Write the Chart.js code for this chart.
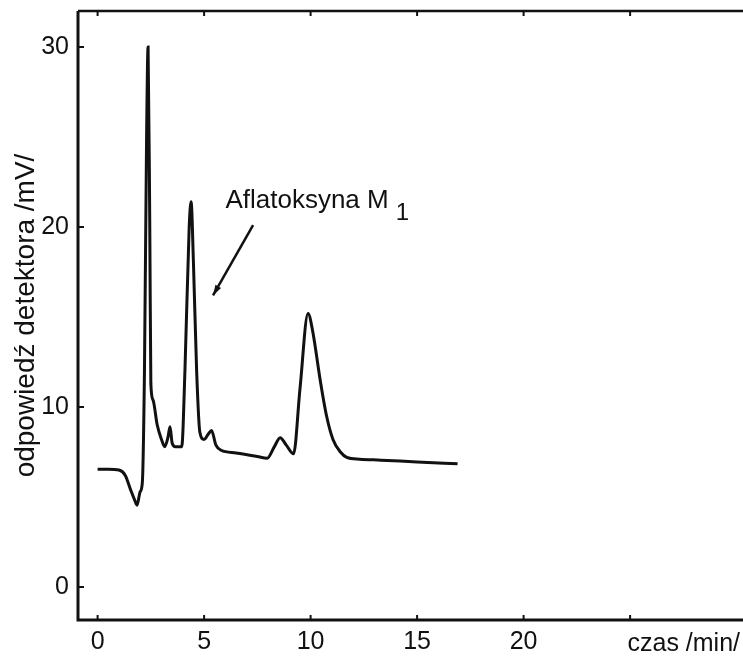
<!DOCTYPE html>
<html>
<head>
<meta charset="utf-8">
<script src="https://cdn.jsdelivr.net/npm/chart.js@4/dist/chart.umd.min.js"></script>
<style>
  html, body { margin: 0; padding: 0; background: #fff; }
  canvas { display: block; }
</style>
</head>
<body>
<canvas id="chromChart" width="743" height="659"></canvas>
<script>
// chromatogram trace: time /min/ and detector signal /mV/
const times = [0, 0.5, 1.0, 1.3, 1.55, 1.75, 1.85, 2.0, 2.1, 2.2, 2.3, 2.37, 2.45, 2.5, 2.6, 2.8, 3.0, 3.15, 3.3, 3.4, 3.5, 3.65, 3.95,
  4.1, 4.3, 4.39, 4.5, 4.65, 4.8, 5.0, 5.2, 5.35, 5.55, 5.8, 6.5, 7.5, 7.96, 8.3, 8.57, 8.85, 9.2,
  9.5, 9.88, 10.1, 10.45, 10.75, 11.05, 11.4, 11.7, 12.3, 13.3, 15, 16.9];
const signal = [6.55, 6.55, 6.5, 6.2, 5.4, 4.8, 4.55, 5.3, 5.8, 12, 25, 30, 20, 11.3, 10.4, 9.0, 8.2, 7.8, 8.3, 8.9, 8.0, 7.8, 7.8,
  12, 20, 21.4, 18, 12, 8.6, 8.2, 8.5, 8.7, 7.9, 7.6, 7.45, 7.25, 7.15, 7.8, 8.3, 7.9, 7.4,
  11, 15.2, 14.2, 11.5, 9.5, 8.2, 7.5, 7.2, 7.1, 7.05, 6.95, 6.85];

const xTicks = [0, 5, 10, 15, 20];
const yTicks = [0, 10, 20, 30];

// peak label and arrow (in data units)
const peakName = 'Aflatoksyna M';
const peakSub = '1';
const labelAt = [6.0, 21.06];
const arrowFrom = [7.3, 20.1];
const arrowTo = [5.42, 16.2];

const FONT = "'Liberation Sans', Arial, Helvetica, sans-serif";

const frame = {
  id: 'frame',
  afterDraw(chart) {
    const { ctx, chartArea: a, scales: { x, y } } = chart;
    ctx.save();
    ctx.strokeStyle = '#111';
    ctx.lineWidth = 3;
    ctx.beginPath();
    ctx.moveTo(a.left, a.top);
    ctx.lineTo(a.left, a.bottom);
    ctx.lineTo(a.right, a.bottom);
    ctx.stroke();
    ctx.lineWidth = 2.5;
    ctx.beginPath();
    ctx.moveTo(a.left, a.top);
    ctx.lineTo(a.right, a.top);
    ctx.stroke();

    // small inward tick marks
    ctx.lineWidth = 2;
    ctx.beginPath();
    x.ticks.forEach(t => {
      if (t.value > 25) return;
      const px = x.getPixelForValue(t.value);
      ctx.moveTo(px, a.bottom);
      ctx.lineTo(px, a.bottom - 5);
      ctx.moveTo(px, a.top);
      ctx.lineTo(px, a.top + 5);
    });
    y.ticks.forEach(t => {
      const py = y.getPixelForValue(t.value);
      ctx.moveTo(a.left, py);
      ctx.lineTo(a.left + 6, py);
    });
    ctx.stroke();

    // x axis name sits in the tick label row
    ctx.fillStyle = '#111';
    ctx.font = '25px ' + FONT;
    ctx.textAlign = 'right';
    ctx.textBaseline = 'alphabetic';
    ctx.fillText('czas /min/', a.right - 3, a.bottom + 31);

    // peak annotation
    const lx = x.getPixelForValue(labelAt[0]);
    const ly = y.getPixelForValue(labelAt[1]);
    ctx.font = '26px ' + FONT;
    ctx.textAlign = 'left';
    ctx.fillText(peakName, lx, ly);
    const w = ctx.measureText(peakName).width;
    ctx.font = '24px ' + FONT;
    ctx.fillText(peakSub, lx + w + 7, ly + 12);

    const x1 = x.getPixelForValue(arrowFrom[0]), y1 = y.getPixelForValue(arrowFrom[1]);
    const x2 = x.getPixelForValue(arrowTo[0]), y2 = y.getPixelForValue(arrowTo[1]);
    ctx.lineWidth = 2.5;
    ctx.beginPath();
    ctx.moveTo(x1, y1);
    ctx.lineTo(x2, y2);
    ctx.stroke();
    const ang = Math.atan2(y2 - y1, x2 - x1);
    ctx.beginPath();
    ctx.moveTo(x2, y2);
    ctx.lineTo(x2 - 11 * Math.cos(ang - 0.3), y2 - 11 * Math.sin(ang - 0.3));
    ctx.lineTo(x2 - 11 * Math.cos(ang + 0.3), y2 - 11 * Math.sin(ang + 0.3));
    ctx.closePath();
    ctx.fill();
    ctx.restore();
  }
};

function noPad(s) {
  s.paddingTop = 0;
  s.paddingBottom = 0;
  s.paddingLeft = 0;
  s.paddingRight = 0;
}

const ctx = document.getElementById('chromChart').getContext('2d');
const chromChart = new Chart(ctx, {
  type: 'line',
  data: {
    datasets: [{
      data: times.map((t, i) => ({ x: t, y: signal[i] })),
      borderColor: '#111',
      borderWidth: 3,
      pointRadius: 0,
      cubicInterpolationMode: 'monotone',
      fill: false
    }]
  },
  options: {
    responsive: false,
    animation: false,
    layout: { padding: { top: 11, right: 0, bottom: 0, left: 0 } },
    plugins: { legend: { display: false }, tooltip: { enabled: false } },
    scales: {
      x: {
        type: 'linear',
        min: -0.92,
        max: 30.3,
        grid: { display: false, drawTicks: false },
        border: { display: false },
        afterFit: s => { s.height = 39; noPad(s); },
        afterBuildTicks: s => { s.ticks = xTicks.concat([25]).map(v => ({ value: v })); },
        ticks: {
          autoSkip: false,
          maxRotation: 0,
          padding: 7,
          color: '#111',
          font: { family: FONT, size: 25 },
          callback: v => (xTicks.includes(v) ? String(v) : '')
        }
      },
      y: {
        min: -1.83,
        max: 32,
        grid: { display: false, drawTicks: false },
        border: { display: false },
        afterFit: s => { s.width = 78; noPad(s); },
        afterBuildTicks: s => { s.ticks = yTicks.map(v => ({ value: v })); },
        ticks: {
          padding: 9,
          color: '#111',
          font: { family: FONT, size: 25 }
        },
        title: {
          display: true,
          text: 'odpowiedź detektora /mV/',
          color: '#111',
          font: { family: FONT, size: 28 },
          padding: { top: 9, bottom: 0 }
        }
      }
    }
  },
  plugins: [frame]
});
</script>
</body>
</html>
